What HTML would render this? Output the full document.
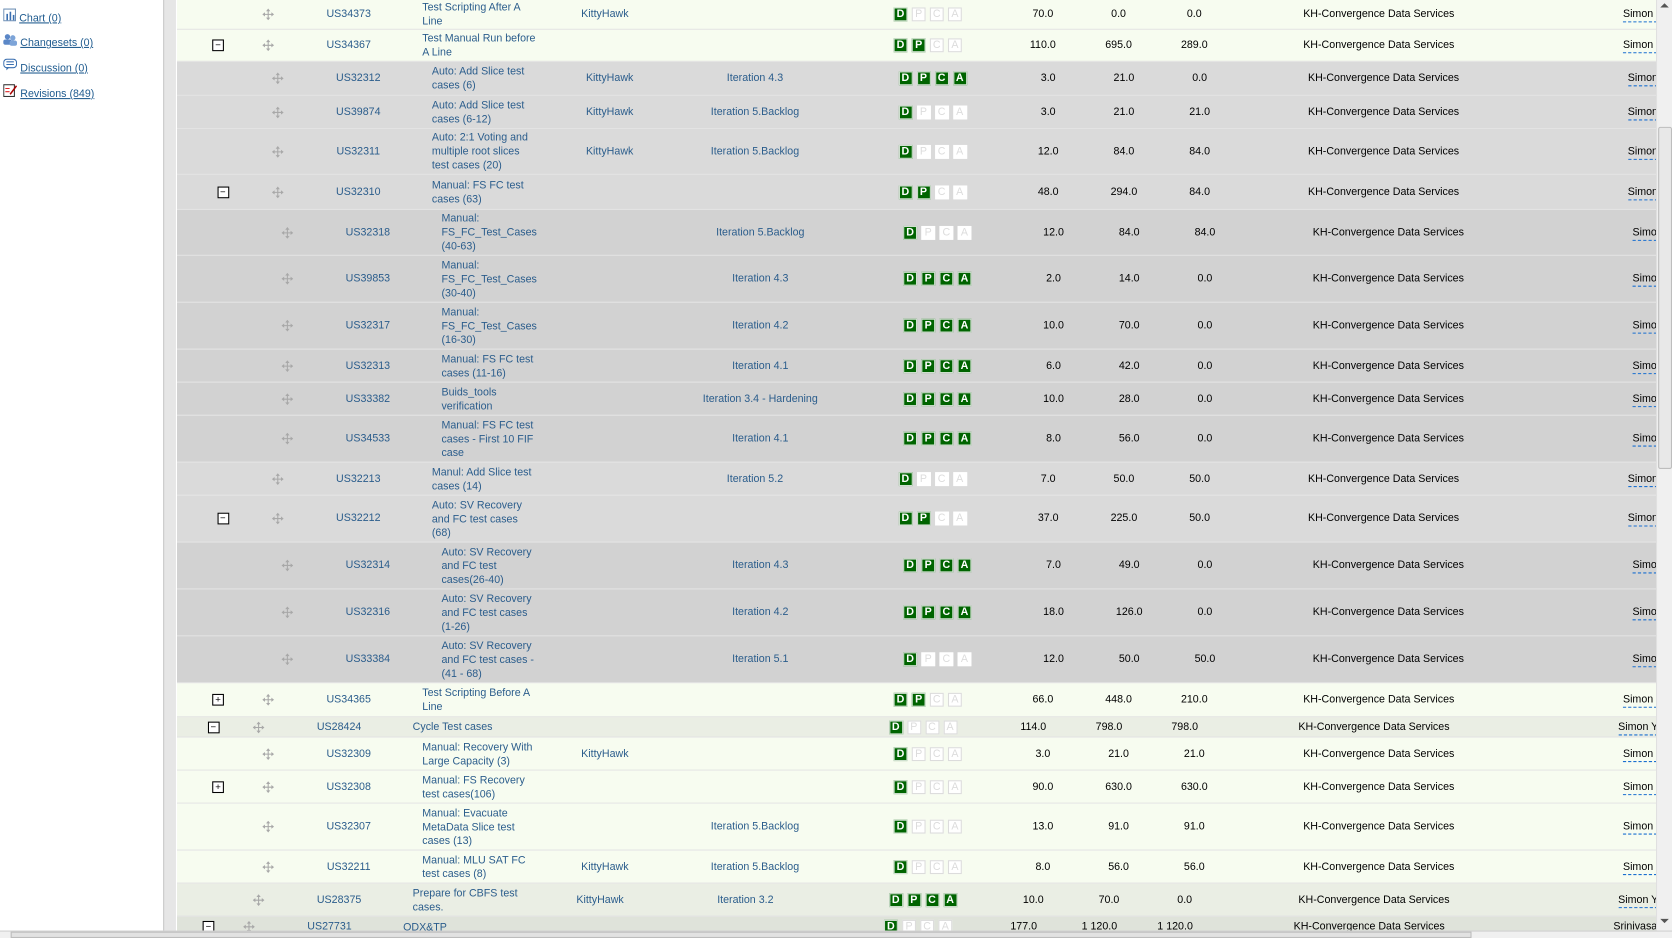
<!DOCTYPE html>
<html><head><meta charset="utf-8">
<style>
html,body{margin:0;padding:0;width:1672px;height:938px;overflow:hidden;background:#fff;font-family:"Liberation Sans",Arial,sans-serif;}
#stage{position:absolute;left:0;top:0;width:1568px;height:880px;transform:scale(1.06633,1.06591);transform-origin:0 0;}
#sidebar{position:absolute;left:0;top:0;width:153px;height:880px;background:#fff;}
.side-link{position:absolute;left:3px;font-size:10px;color:#1f5b8f;}
.side-link span{text-decoration:underline;margin-left:3px;}
#gutter{position:absolute;left:153px;top:0;width:12px;height:880px;background:#e6e6e6;border-left:1px solid #c8c8c8;box-sizing:border-box;}
#content{position:absolute;left:166px;top:0;width:1387px;height:873px;overflow:hidden;}
.row{position:absolute;left:0;width:1387px;box-sizing:border-box;border-bottom:1px solid #e2e2e2;}
.row > *{position:absolute;font-size:10px;}
.exp{width:9px;height:9px;border:1px solid #000;background:#fff;font-size:9px;line-height:8px;text-align:center;color:#000;}
.drag{width:11px;height:11px;}
.id{color:#2b5d8c;transform:translateX(-50%);white-space:nowrap;}
.nm{color:#2b5d8c;line-height:13px;white-space:nowrap;}
.kt{color:#2b5d8c;white-space:nowrap;}
.it{color:#2b5d8c;transform:translateX(-50%);white-space:nowrap;}
.num{color:#000;transform:translateX(-50%);white-space:nowrap;}
.kh{color:#000;transform:translateX(-50%);white-space:nowrap;}
.own{color:#000;border-bottom:1px dashed #1a6fd0;white-space:nowrap;line-height:12px;}
.box{width:13px;height:13px;box-sizing:border-box;font-size:10px;font-weight:bold;text-align:center;line-height:13px;}
.on{background:#006400;color:#fff;border:1px solid #cfe0cf;line-height:11px;}
.off{background:#fff;color:#dcdcdc;border:1px solid #dcdcdc;line-height:11px;font-weight:normal;}
#vscroll{position:absolute;left:1553px;top:0;width:15px;height:873px;background:#f0f0f0;border-left:1px solid #e0e0e0;box-sizing:border-box;}
#vthumb{position:absolute;left:1px;top:119px;width:13px;height:321px;background:#e8e8e8;border:1px solid #bdbdbd;box-sizing:border-box;border-radius:2px;}
#hscroll{position:absolute;left:0;top:873px;width:1568px;height:7px;background:#f0f0f0;border-top:1px solid #d0d0d0;box-sizing:border-box;}
#hthumb{position:absolute;left:10px;top:0;width:1370px;height:6px;background:#e2e2e2;border:1px solid #bcbcbc;box-sizing:border-box;}
</style></head><body>
<div id="stage">
  <div id="sidebar">
    <div class="side-link" style="top:8px"><svg width="12" height="12"><rect x="0.5" y="0.5" width="11" height="11" fill="#fff" stroke="#6d8fb5"/><rect x="3" y="5" width="1.5" height="6" fill="#3a6fb0"/><rect x="6" y="3" width="1.5" height="8" fill="#3a6fb0"/><rect x="9" y="6" width="1.5" height="5" fill="#3a6fb0"/></svg><span>Chart (0)</span></div>
    <div class="side-link" style="top:31px"><svg width="13" height="12"><circle cx="4" cy="3.5" r="2.5" fill="#5b87c7"/><circle cx="9" cy="4.5" r="2.5" fill="#7da4d8"/><rect x="0" y="6" width="8" height="5" rx="2" fill="#5b87c7"/><rect x="6" y="7" width="7" height="5" rx="2" fill="#7da4d8"/></svg><span>Changesets (0)</span></div>
    <div class="side-link" style="top:55px"><svg width="13" height="12"><rect x="0.5" y="0.5" width="12" height="8" rx="3" fill="#fff" stroke="#3a6fb0"/><line x1="3" y1="3" x2="10" y2="3" stroke="#3a6fb0"/><line x1="3" y1="5.5" x2="10" y2="5.5" stroke="#3a6fb0"/><path d="M3 8 L3 11 L6 8" fill="#3a6fb0"/></svg><span>Discussion (0)</span></div>
    <div class="side-link" style="top:78px"><svg width="13" height="13"><rect x="0.5" y="1.5" width="10" height="11" fill="#fff" stroke="#333"/><line x1="2" y1="5" x2="6" y2="5" stroke="#d22"/><line x1="2" y1="8" x2="6" y2="8" stroke="#d22"/><path d="M6 10 L12 2 L13 3 L7 11Z" fill="#a00"/></svg><span>Revisions (849)</span></div>
  </div>
  <div id="gutter"></div>
  <div id="content"></div>
  <div id="vscroll">
    <div style="position:absolute;left:3px;top:3px;width:0;height:0;border-left:4px solid transparent;border-right:4px solid transparent;border-bottom:4px solid #555;"></div>
    <div id="vthumb"></div>
    <div style="position:absolute;left:3px;top:862px;width:0;height:0;border-left:4px solid transparent;border-right:4px solid transparent;border-top:4px solid #555;"></div>
  </div>
  <div id="hscroll"><div id="hthumb"></div></div>
</div>
<script>
var rowIds=["US34373","US34367","US32312","US39874","US32311","US32310","US32318","US39853","US32317","US32313","US33382","US34533","US32213","US32212","US32314","US32316","US33384","US34365","US28424","US32309","US32308","US32307","US32211","US28375","US27731"];
var rowLevels=[0,0,1,1,1,1,2,2,2,2,2,2,1,1,2,2,2,0,-1,0,0,0,0,-1,-2];
var rowTops=[-4,28,58,90,121,164,197,240,284,328,359,390,434,465,509,553,597,641,673,692,723,754,798,829,860];
var rowBottoms=[28,58,90,121,164,197,240,284,328,359,390,434,465,509,553,597,641,673,692,723,754,798,829,860,880];
var rowExp=["","-","","","","-","","","","","","","","-","","","","+","-","","+","","","","-"];
var rowNames=["Test Scripting After A|Line","Test Manual Run before|A Line","Auto: Add Slice test|cases (6)","Auto: Add Slice test|cases (6-12)","Auto: 2:1 Voting and|multiple root slices|test cases (20)","Manual: FS FC test|cases (63)","Manual:|FS_FC_Test_Cases|(40-63)","Manual:|FS_FC_Test_Cases|(30-40)","Manual:|FS_FC_Test_Cases|(16-30)","Manual: FS FC test|cases (11-16)","Buids_tools|verification","Manual: FS FC test|cases - First 10 FIF|case","Manul: Add Slice test|cases (14)","Auto: SV Recovery|and FC test cases|(68)","Auto: SV Recovery|and FC test|cases(26-40)","Auto: SV Recovery|and FC test cases|(1-26)","Auto: SV Recovery|and FC test cases -|(41 - 68)","Test Scripting Before A|Line","Cycle Test cases","Manual: Recovery With|Large Capacity (3)","Manual: FS Recovery|test cases(106)","Manual: Evacuate|MetaData Slice test|cases (13)","Manual: MLU SAT FC|test cases (8)","Prepare for CBFS test|cases.","ODX&TP"];
var rowTeams=["KittyHawk","","KittyHawk","KittyHawk","KittyHawk","","","","","","","","","","","","","","","KittyHawk","","","KittyHawk","KittyHawk",""];
var rowIters=["","","Iteration 4.3","Iteration 5.Backlog","Iteration 5.Backlog","","Iteration 5.Backlog","Iteration 4.3","Iteration 4.2","Iteration 4.1","Iteration 3.4 - Hardening","Iteration 4.1","Iteration 5.2","","Iteration 4.3","Iteration 4.2","Iteration 5.1","","","","","Iteration 5.Backlog","Iteration 5.Backlog","Iteration 3.2",""];
var rowStates=[1,2,4,1,1,2,1,4,4,4,4,4,1,2,4,4,1,2,1,1,1,1,1,4,1];
var rowEst=["70.0","110.0","3.0","3.0","12.0","48.0","12.0","2.0","10.0","6.0","10.0","8.0","7.0","37.0","7.0","18.0","12.0","66.0","114.0","3.0","90.0","13.0","8.0","10.0","177.0"];
var rowTodo=["0.0","695.0","21.0","21.0","84.0","294.0","84.0","14.0","70.0","42.0","28.0","56.0","50.0","225.0","49.0","126.0","50.0","448.0","798.0","21.0","630.0","91.0","56.0","70.0","1 120.0"];
var rowRemain=["0.0","289.0","0.0","21.0","84.0","84.0","84.0","0.0","0.0","0.0","0.0","0.0","50.0","50.0","0.0","0.0","50.0","210.0","798.0","21.0","630.0","91.0","56.0","0.0","1 120.0"];
var rowOwners=["Simon T","Simon T","Simon","Simon","Simon","Simon","Simo","Simo","Simo","Simo","Simo","Simo","Simon","Simon","Simo","Simo","Simo","Simon T","Simon Y","Simon T","Simon T","Simon T","Simon T","Simon Y","Srinivasa Cha"];

(function(){
var C=166;
var bgByLevel={"-2":"#dfe3da","-1":"#eaeee4","0":"#f7fcf0","1":"#dadada","2":"#d2d2d2"};
var fullOff={"-2":-18,"-1":-9,"0":0,"1":9,"2":18};
var halfOff={"-2":-9,"-1":-4.5,"0":0,"1":4.5,"2":9};
var numOff={"-2":-18,"-1":-9,"0":0,"1":5,"2":10};
var content=document.getElementById('content');
function mk(cls,x,y,html){var d=document.createElement('div');d.className=cls;d.style.left=(x-C)+'px';d.style.top=y+'px';if(html!==undefined)d.innerHTML=html;return d;}
var dragSvg='<svg width="11" height="11" viewBox="0 0 11 11"><path d="M5.5 0 L7.5 2.5 L6 2.5 L6 5 L8.5 5 L8.5 3.5 L11 5.5 L8.5 7.5 L8.5 6 L6 6 L6 8.5 L7.5 8.5 L5.5 11 L3.5 8.5 L5 8.5 L5 6 L2.5 6 L2.5 7.5 L0 5.5 L2.5 3.5 L2.5 5 L5 5 L5 2.5 L3.5 2.5Z" fill="#a8a8a8"/></svg>';
var letters=["D","P","C","A"];
for(var i=0;i<rowIds.length;i++){
  var L=String(rowLevels[i]),rowTop=rowTops[i],h=rowBottoms[i]-rowTop,mid=h/2;
  if(i===0)mid=h/2+2;
  var r=document.createElement('div');
  r.className='row';r.style.top=rowTop+'px';r.style.height=h+'px';r.style.background=bgByLevel[L];
  if(rowLevels[i]>0)r.style.borderBottomColor='#e4e4e4';
  
  
  if(rowExp[i]){var e=mk('exp',204+halfOff[L]-5,mid-6,rowExp[i]=="-"?"&minus;":"+");
    
    r.appendChild(e);}
  var dg=mk('drag',251+fullOff[L]-5,mid-6,dragSvg);
  
  r.appendChild(dg);
  var id=mk('id',327+fullOff[L],mid-6,rowIds[i]);
  
  r.appendChild(id);
  var lines=rowNames[i].split('|');
  var nm=mk('nm',396+fullOff[L],mid-lines.length*6.5,'');
  lines.forEach(function(t,k){if(k)nm.appendChild(document.createElement('br'));nm.appendChild(document.createTextNode(t));});
  
  r.appendChild(nm);
  if(rowTeams[i]){var kt=mk('kt',545+halfOff[L],mid-6,rowTeams[i]);
    
    r.appendChild(kt);}
  if(rowIters[i]){var it=mk('it',708+(rowLevels[i]>=2?5:(rowLevels[i]<0?-9:0)),mid-6,rowIters[i]);
    
    r.appendChild(it);}
  for(var k=0;k<4;k++){
    var on=k<rowStates[i];
    var b=mk('box '+(on?'on':'off'),838+halfOff[L]+k*17,mid-7,letters[k]);
    if(!on&&rowLevels[i]>0)b.style.borderColor='#fff';
    
    r.appendChild(b);
  }
  var n1=mk('num',978+numOff[L],mid-6,rowEst[i]);
  
  r.appendChild(n1);
  var n2=mk('num',1049+numOff[L],mid-6,rowTodo[i]);
  
  r.appendChild(n2);
  var n3=mk('num',1120+numOff[L],mid-6,rowRemain[i]);
  
  r.appendChild(n3);
  var kh=mk('kh',1293+halfOff[L],mid-6,'KH-Convergence Data Services');
  
  r.appendChild(kh);
  var ow=mk('own',1522+halfOff[L],mid-6,rowOwners[i]);
  
  r.appendChild(ow);
  content.appendChild(r);
}
})();
</script>
</body></html>
